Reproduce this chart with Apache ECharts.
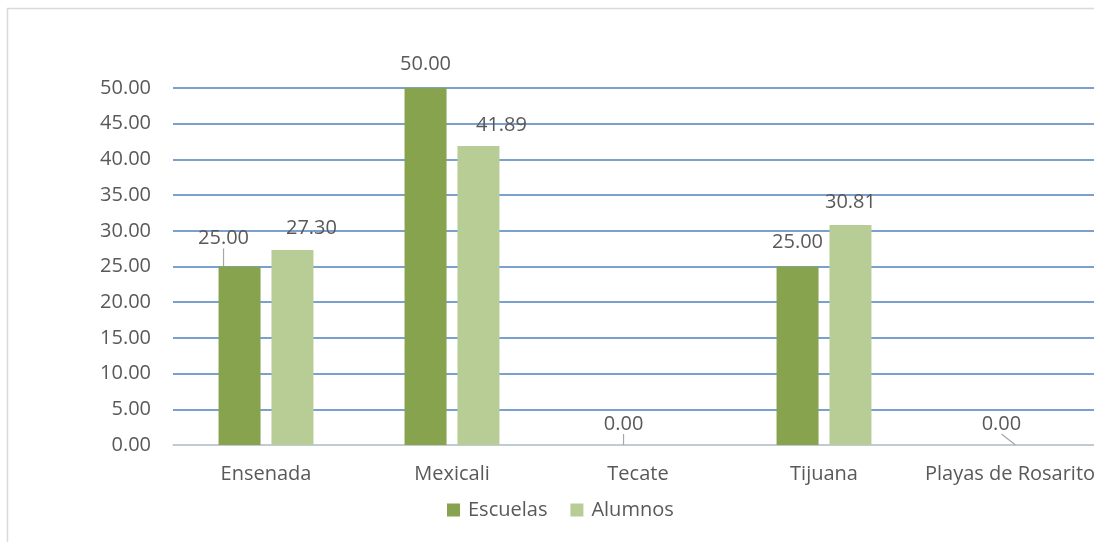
<!DOCTYPE html>
<html><head><meta charset="utf-8">
<script src="https://cdn.jsdelivr.net/npm/echarts@6/dist/echarts.min.js"></script>
<style>html,body{margin:0;padding:0;background:#fff}#c{width:1094px;height:542px}</style>
</head><body><div id="c"></div>
<script>
const categories = ['Ensenada', 'Mexicali', 'Tecate', 'Tijuana', 'Playas de Rosarito'];
const escuelas = [25.00, 50.00, 0.00, 25.00, 0.00];
const alumnos = [27.30, 41.89, 0.00, 30.81, 0.00];
const yTicks = [0, 5, 10, 15, 20, 25, 30, 35, 40, 45, 50];

const FONT = 'Open Sans';
const TXT = '#595959';
// label shifts [series][category] -> [dx, dy, showLine, hidden]
const shifts = [
  [[-16, -13, true, false], [0, -9, false, false], [12, -6, true, false], [0, -9.5, false, false], [0, 0, false, true]],
  [[19, -7, false, false], [23, -5.5, false, false], [0, 0, false, true], [0, -7.5, false, false], [-35, -6, true, false]]
];
function mkData(vals, si) {
  return vals.map((v, i) => {
    const s = shifts[si][i];
    return {
      value: v,
      label: { show: !s[3] },
      labelLine: { show: s[2] }
    };
  });
}
function layoutFn(si) {
  return p => { const s = shifts[si][p.dataIndex]; return { dx: s[0], dy: s[1] }; };
}
const chart = echarts.init(document.getElementById('c'));
chart.setOption({
  animation: false,
  textStyle: { fontFamily: FONT },
  graphic: [{
    type: 'polyline', shape: { points: [[7.5, 700], [7.5, 8.5], [1200, 8.5]] },
    style: { fill: 'none', stroke: '#D9D9D9', lineWidth: 1.5 }, silent: true
  }],
  legend: {
    left: 447, top: 500, padding: 0, itemWidth: 13, itemHeight: 13, itemGap: 23,
    icon: 'rect',
    textStyle: { fontFamily: FONT, fontSize: 20, color: TXT, padding: [0, 0, 0, 3] },
    data: ['Escuelas', 'Alumnos']
  },
  grid: { left: 173, top: 88, right: -9, bottom: 97, containLabel: false, outerBoundsMode: 'none' },
  xAxis: {
    type: 'category', data: categories,
    axisTick: { show: false },
    axisLine: { lineStyle: { color: '#D9D9D9', width: 1.5 } },
    axisLabel: { color: TXT, fontFamily: FONT, fontSize: 20, margin: 19, interval: 0 }
  },
  yAxis: {
    type: 'value', min: 0, max: 50, interval: 5,
    axisLine: { show: false }, axisTick: { show: false },
    splitLine: { lineStyle: { color: '#4F81BD', width: 1.5 } },
    axisLabel: { color: TXT, fontFamily: FONT, fontSize: 20, margin: 22,
      formatter: v => yTicks.includes(v) ? v.toFixed(2) : '' }
  },
  series: [
    {
      name: 'Escuelas', type: 'bar', data: mkData(escuelas, 0),
      barWidth: 42, barGap: '26%',
      itemStyle: { color: '#87A34D' },
      label: { position: 'top', distance: 5, color: TXT, fontFamily: FONT, fontSize: 20,
        formatter: p => p.value.toFixed(2) },
      labelLayout: layoutFn(0),
      labelLine: { lineStyle: { color: '#A6A6A6', width: 1.2 } }
    },
    {
      name: 'Alumnos', type: 'bar', data: mkData(alumnos, 1),
      barWidth: 42,
      itemStyle: { color: '#B7CD95' },
      label: { position: 'top', distance: 5, color: TXT, fontFamily: FONT, fontSize: 20,
        formatter: p => p.value.toFixed(2) },
      labelLayout: layoutFn(1),
      labelLine: { lineStyle: { color: '#A6A6A6', width: 1.2 } }
    }
  ]
});
</script></body></html>
